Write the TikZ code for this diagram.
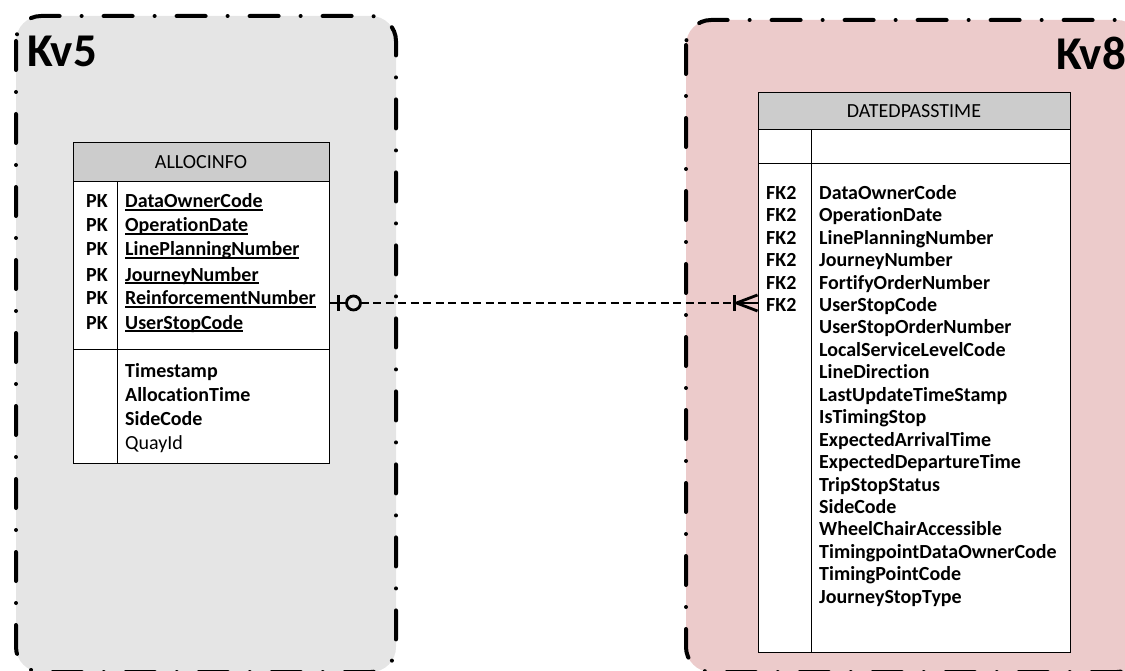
\documentclass[tikz,border=0pt]{standalone}
\usepackage{fontspec}
\setmainfont{Carlito}[Ligatures=NoCommon]
\usetikzlibrary{calc}
\definecolor{kvgray}{HTML}{E5E5E5}
\definecolor{kvpink}{HTML}{ECCBCB}
\definecolor{hdrgray}{HTML}{CCCCCC}
\newcommand\keyul[1]{\setbox0\hbox{#1}\rlap{\rule[-2.6pt]{\wd0}{1.2pt}}\box0}
\begin{document}
\begin{tikzpicture}[x=1pt,y=-1pt,
  container/.style={line width=4pt, dash pattern=on 29pt off 22pt on 0pt off 22pt, line cap=round, rounded corners=25pt},
  tablebox/.style={draw, line width=1pt, fill=white, inner sep=0pt},
  tline/.style={line width=1pt},
  fld/.style={anchor=base west, inner sep=0pt, font=\fontsize{20}{22}\selectfont\bfseries},
  fldr/.style={anchor=base west, inner sep=0pt, font=\fontsize{20}{22}\selectfont},
  hdr/.style={inner sep=0pt, font=\fontsize{20}{22}\selectfont},
  kvlabel/.style={inner sep=0pt, font=\fontsize{47}{50}\selectfont\bfseries},
  conn/.style={line width=2.8pt},
  conndash/.style={line width=2.8pt, dash pattern=on 8pt off 4.5pt}]
\useasboundingbox (0,0) rectangle (1125,671);
% containers
\draw[container, fill=kvgray] (16,16) rectangle (396,672);
\draw[container, fill=kvpink] (686,20) rectangle (1142,672);
\node[kvlabel, anchor=base west] (kv5) at (27,67) {Kv5};
\node[kvlabel, anchor=base east] (kv8) at (1126,70) {Kv8};
% ALLOCINFO table
\node[tablebox, minimum width=256pt, minimum height=320pt] (alloc) at (201,303) {};
\draw[tline, fill=hdrgray] (73,143) rectangle (329,182);
\draw[tline] (117,182) -- (117,463);
\draw[tline] (73,349) -- (329,349);
\node[hdr] (allochdr) at (201,162.5) {ALLOCINFO};
\foreach \n/\t/\y in {a1/DataOwnerCode/208, a2/OperationDate/232, a3/LinePlanningNumber/256, a4/JourneyNumber/281, a5/ReinforcementNumber/305, a6/UserStopCode/329}{
  \node[fld] (pk\n) at (86,\y) {PK};
  \node[fld] (f\n) at (125,\y) {\keyul{\t}};
}
\node[fld] (fb1) at (125,377) {Timestamp};
\node[fld] (fb2) at (125,401) {AllocationTime};
\node[fld] (fb3) at (125,425) {SideCode};
\node[fldr] (fb4) at (125,449) {QuayId};
% DATEDPASSTIME table
\node[tablebox, minimum width=312pt, minimum height=559pt] (dpt) at (914,372.5) {};
\draw[tline, fill=hdrgray] (758,93) rectangle (1070,130);
\draw[tline] (758,164) -- (1070,164);
\draw[tline] (811,130) -- (811,652);
\node[hdr] (dpthdr) at (914,111.5) {DATEDPASSTIME};
\foreach \t [count=\i] in {DataOwnerCode,OperationDate,LinePlanningNumber,JourneyNumber,FortifyOrderNumber,UserStopCode,UserStopOrderNumber,LocalServiceLevelCode,LineDirection,LastUpdateTimeStamp,IsTimingStop,ExpectedArrivalTime,ExpectedDepartureTime,TripStopStatus,SideCode,WheelChairAccessible,TimingpointDataOwnerCode,TimingPointCode,JourneyStopType}{
  \node[fld] (d\i) at (819,{199.3+22.44*(\i-1)}) {\t};
}
\foreach \i in {1,...,6}{
  \node[fld] (fk\i) at (766,{199.3+22.44*(\i-1)}) {FK2};
}
% connector
\coordinate (L) at (alloc.east);
\coordinate (R) at (dpt.west |- alloc.east);
\draw[conn] (L) -- ($(L)+(17,0)$);
\draw[conn] ($(L)+(9,-8)$) -- ($(L)+(9,8)$);
\draw[conn] ($(L)+(24,0)$) circle (7);
\draw[conndash] ($(L)+(31,0)$) -- ($(R)+(-22,0)$);
\draw[conn] ($(R)+(-23,-8)$) -- ($(R)+(-23,8)$);
\draw[conn] ($(R)+(-22,0)$) -- (R);
\draw[conn] ($(R)+(0,-8)$) -- ($(R)+(-21,0)$) -- ($(R)+(0,8)$);
\end{tikzpicture}
\end{document}
